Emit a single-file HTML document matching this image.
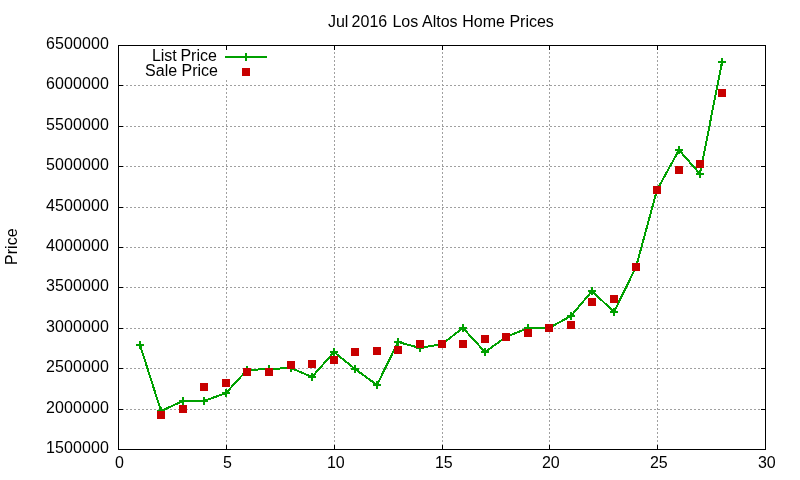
<!DOCTYPE html>
<html><head><meta charset="utf-8"><title>Jul 2016 Los Altos Home Prices</title>
<style>html,body{margin:0;padding:0;background:#fff;}body{width:800px;height:480px;overflow:hidden;}svg{display:block;will-change:transform;}text{font-family:"Liberation Sans",sans-serif;font-size:16px;fill:#000;}</style></head><body>
<svg width="800" height="480" viewBox="0 0 800 480">
<g stroke="#a0a0a0" stroke-width="1" stroke-dasharray="2 2" shape-rendering="crispEdges" fill="none">
<line x1="118" y1="85.5" x2="766" y2="85.5"/>
<line x1="118" y1="126.5" x2="766" y2="126.5"/>
<line x1="118" y1="166.5" x2="766" y2="166.5"/>
<line x1="118" y1="207.5" x2="766" y2="207.5"/>
<line x1="118" y1="247.5" x2="766" y2="247.5"/>
<line x1="118" y1="287.5" x2="766" y2="287.5"/>
<line x1="118" y1="328.5" x2="766" y2="328.5"/>
<line x1="118" y1="368.5" x2="766" y2="368.5"/>
<line x1="118" y1="409.5" x2="766" y2="409.5"/>
<line x1="226.5" y1="450" x2="226.5" y2="80"/>
<line x1="334.5" y1="450" x2="334.5" y2="45"/>
<line x1="442.5" y1="450" x2="442.5" y2="45"/>
<line x1="549.5" y1="450" x2="549.5" y2="45"/>
<line x1="657.5" y1="450" x2="657.5" y2="45"/>
</g>
<g fill="#000" shape-rendering="crispEdges">
<rect x="118" y="45" width="5" height="1"/>
<rect x="761" y="45" width="5" height="1"/>
<rect x="118" y="85" width="5" height="1"/>
<rect x="761" y="85" width="5" height="1"/>
<rect x="118" y="126" width="5" height="1"/>
<rect x="761" y="126" width="5" height="1"/>
<rect x="118" y="166" width="5" height="1"/>
<rect x="761" y="166" width="5" height="1"/>
<rect x="118" y="207" width="5" height="1"/>
<rect x="761" y="207" width="5" height="1"/>
<rect x="118" y="247" width="5" height="1"/>
<rect x="761" y="247" width="5" height="1"/>
<rect x="118" y="287" width="5" height="1"/>
<rect x="761" y="287" width="5" height="1"/>
<rect x="118" y="328" width="5" height="1"/>
<rect x="761" y="328" width="5" height="1"/>
<rect x="118" y="368" width="5" height="1"/>
<rect x="761" y="368" width="5" height="1"/>
<rect x="118" y="409" width="5" height="1"/>
<rect x="761" y="409" width="5" height="1"/>
<rect x="118" y="449" width="5" height="1"/>
<rect x="761" y="449" width="5" height="1"/>
<rect x="118" y="445" width="1" height="5"/>
<rect x="118" y="45" width="1" height="5"/>
<rect x="226" y="445" width="1" height="5"/>
<rect x="226" y="45" width="1" height="5"/>
<rect x="334" y="445" width="1" height="5"/>
<rect x="334" y="45" width="1" height="5"/>
<rect x="442" y="445" width="1" height="5"/>
<rect x="442" y="45" width="1" height="5"/>
<rect x="549" y="445" width="1" height="5"/>
<rect x="549" y="45" width="1" height="5"/>
<rect x="657" y="445" width="1" height="5"/>
<rect x="657" y="45" width="1" height="5"/>
<rect x="765" y="445" width="1" height="5"/>
<rect x="765" y="45" width="1" height="5"/>
<rect x="118" y="45" width="648" height="1"/>
<rect x="118" y="449" width="648" height="1"/>
<rect x="118" y="45" width="1" height="405"/>
<rect x="765" y="45" width="1" height="405"/>
</g>
<g text-anchor="end" style="letter-spacing:0.1px">
<text x="109.1" y="49">6500000</text>
<text x="109.1" y="89">6000000</text>
<text x="109.1" y="130">5500000</text>
<text x="109.1" y="170">5000000</text>
<text x="109.1" y="211">4500000</text>
<text x="109.1" y="251">4000000</text>
<text x="109.1" y="291">3500000</text>
<text x="109.1" y="332">3000000</text>
<text x="109.1" y="372">2500000</text>
<text x="109.1" y="413">2000000</text>
<text x="109.1" y="453">1500000</text>
</g>
<g text-anchor="middle">
<text x="119.4" y="468">0</text>
<text x="227.4" y="468">5</text>
<text x="335.8" y="468">10</text>
<text x="443.8" y="468">15</text>
<text x="550.8" y="468">20</text>
<text x="658.8" y="468">25</text>
<text x="766.8" y="468">30</text>
<text y="27" text-anchor="start"><tspan x="327.95">Jul</tspan> <tspan x="351.6">2016</tspan> <tspan x="392.4">Los</tspan> <tspan x="422.0">Altos</tspan> <tspan x="462.27">Home</tspan> <tspan x="509.39">Prices</tspan></text>
<text transform="translate(17,246.7) rotate(-90)">Price</text>
</g>
<g text-anchor="end"><text y="61" text-anchor="start"><tspan x="151.9">List</tspan> <tspan x="180.45">Price</tspan></text><text x="218" y="76">Sale Price</text></g>
<g stroke="#00a000" stroke-width="2" fill="none">
<line x1="225" y1="57" x2="267" y2="57"/>
<line x1="246" y1="53" x2="246" y2="61"/>
<polyline points="140,345 161,411 183,401 204,401 226,393 247,370 269,369 291,368 312,377 334,352 355,369 377,385 398,342 420,348 442,344 463,328 485,352 506,337 528,328 549,328 571,316 592,291 614,312 636,267 657,190 679,150 700,174 722,62" stroke-linejoin="round" shape-rendering="crispEdges"/>
<path d="M136 345H144M140 341V349"/>
<path d="M157 411H165M161 407V415"/>
<path d="M179 401H187M183 397V405"/>
<path d="M200 401H208M204 397V405"/>
<path d="M222 393H230M226 389V397"/>
<path d="M243 370H251M247 366V374"/>
<path d="M265 369H273M269 365V373"/>
<path d="M287 368H295M291 364V372"/>
<path d="M308 377H316M312 373V381"/>
<path d="M330 352H338M334 348V356"/>
<path d="M351 369H359M355 365V373"/>
<path d="M373 385H381M377 381V389"/>
<path d="M394 342H402M398 338V346"/>
<path d="M416 348H424M420 344V352"/>
<path d="M438 344H446M442 340V348"/>
<path d="M459 328H467M463 324V332"/>
<path d="M481 352H489M485 348V356"/>
<path d="M502 337H510M506 333V341"/>
<path d="M524 328H532M528 324V332"/>
<path d="M545 328H553M549 324V332"/>
<path d="M567 316H575M571 312V320"/>
<path d="M588 291H596M592 287V295"/>
<path d="M610 312H618M614 308V316"/>
<path d="M632 267H640M636 263V271"/>
<path d="M653 190H661M657 186V194"/>
<path d="M675 150H683M679 146V154"/>
<path d="M696 174H704M700 170V178"/>
<path d="M718 62H726M722 58V66"/>
</g>
<g fill="#c80000" shape-rendering="crispEdges">
<rect x="242" y="68" width="8" height="8"/>
<rect x="157" y="411" width="8" height="8"/>
<rect x="179" y="405" width="8" height="8"/>
<rect x="200" y="383" width="8" height="8"/>
<rect x="222" y="379" width="8" height="8"/>
<rect x="243" y="368" width="8" height="8"/>
<rect x="265" y="368" width="8" height="8"/>
<rect x="287" y="361" width="8" height="8"/>
<rect x="308" y="360" width="8" height="8"/>
<rect x="330" y="356" width="8" height="8"/>
<rect x="351" y="348" width="8" height="8"/>
<rect x="373" y="347" width="8" height="8"/>
<rect x="394" y="346" width="8" height="8"/>
<rect x="416" y="340" width="8" height="8"/>
<rect x="438" y="340" width="8" height="8"/>
<rect x="459" y="340" width="8" height="8"/>
<rect x="481" y="335" width="8" height="8"/>
<rect x="502" y="333" width="8" height="8"/>
<rect x="524" y="329" width="8" height="8"/>
<rect x="545" y="324" width="8" height="8"/>
<rect x="567" y="321" width="8" height="8"/>
<rect x="588" y="298" width="8" height="8"/>
<rect x="610" y="295" width="8" height="8"/>
<rect x="632" y="263" width="8" height="8"/>
<rect x="653" y="186" width="8" height="8"/>
<rect x="675" y="166" width="8" height="8"/>
<rect x="696" y="160" width="8" height="8"/>
<rect x="718" y="89" width="8" height="8"/>
</g>
</svg></body></html>
